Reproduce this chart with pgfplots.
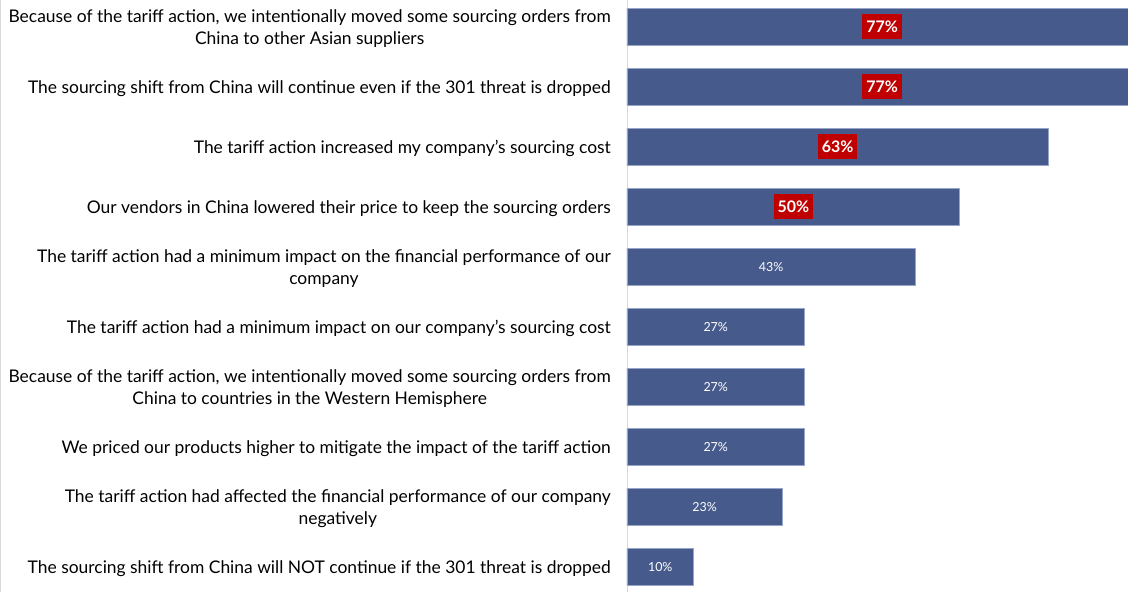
\documentclass[border=0pt]{standalone}
\usepackage{fontspec}
\setmainfont{Lato}
\usepackage{pgfplots}
\usepackage{pgfplotstable}
\pgfplotsset{compat=1.18}
\definecolor{barblue}{RGB}{71,90,140}
\definecolor{baredge}{RGB}{150,165,200}
\definecolor{labred}{RGB}{192,0,0}
\definecolor{axgray}{RGB}{217,217,217}
\pgfplotstableread{
idx val
0 76.67
1 76.67
2 63.33
3 50.00
4 43.33
5 26.67
6 26.67
7 26.67
8 23.33
9 10.00
}\datatable
\begin{document}
\begin{tikzpicture}
\begin{axis}[
  at={(627bp,0)}, anchor=south west,
  scale only axis, width=501bp, height=592bp,
  xmin=0, xmax=75.3,
  y dir=reverse, ymin=-0.45, ymax=9.417,
  axis x line=none,
  axis y line*=left,
  y axis line style={axgray, line width=0.8bp},
  ytick={0,...,9},
  major tick length=0pt,
  /pgf/number format/assume math mode=true,
  yticklabel style={anchor=east, align=center, inner sep=0pt, xshift=-16bp, yshift=-1.5bp,
     font=\fontsize{17.5}{22.5}\selectfont, text=black},
  yticklabels={
    {Because of the tariff action, we intentionally moved some sourcing orders from\\China to other Asian suppliers},
    {The sourcing shift from China will continue even if the 301 threat is dropped},
    {The tariff action increased my company’s sourcing cost},
    {Our vendors in China lowered their price to keep the sourcing orders},
    {The tariff action had a minimum impact on the financial performance of our\\company},
    {The tariff action had a minimum impact on our company’s sourcing cost},
    {Because of the tariff action, we intentionally moved some sourcing orders from\\China to countries in the Western Hemisphere},
    {We priced our products higher to mitigate the impact of the tariff action},
    {The tariff action had affected the financial performance of our company\\negatively},
    {The sourcing shift from China will NOT continue if the 301 threat is dropped}
  },
  clip=true,
]
\addplot[xbar, bar width=37bp, fill=barblue, draw=baredge, line width=0.6bp]
  table[x=val, y=idx] {\datatable};
\addplot[only marks, mark=none, nodes near coords={\pgfmathprintnumber[fixed,precision=0]{\pgfplotspointmeta}\%},
  point meta={\thisrow{val}},
  every node near coord/.style={anchor=center, fill=labred, text=white, font=\bfseries\fontsize{16}{16}\selectfont, inner xsep=4bp, minimum height=25bp},
  skip coords between index={4}{10}]
  table[x expr=\thisrow{val}/2, y=idx] {\datatable};
\addplot[only marks, mark=none, nodes near coords={\pgfmathprintnumber[fixed,precision=0]{\pgfplotspointmeta}\%},
  point meta={\thisrow{val}},
  every node near coord/.style={anchor=center, text=white, font=\fontsize{12.5}{12.5}\selectfont},
  skip coords between index={0}{4}]
  table[x expr=\thisrow{val}/2, y=idx] {\datatable};
\end{axis}
\pgfresetboundingbox
\useasboundingbox (0,0) rectangle (1128bp,592bp);
\draw[axgray, line width=1bp] (0.5bp,0) -- (0.5bp,592bp);
\end{tikzpicture}
\end{document}
